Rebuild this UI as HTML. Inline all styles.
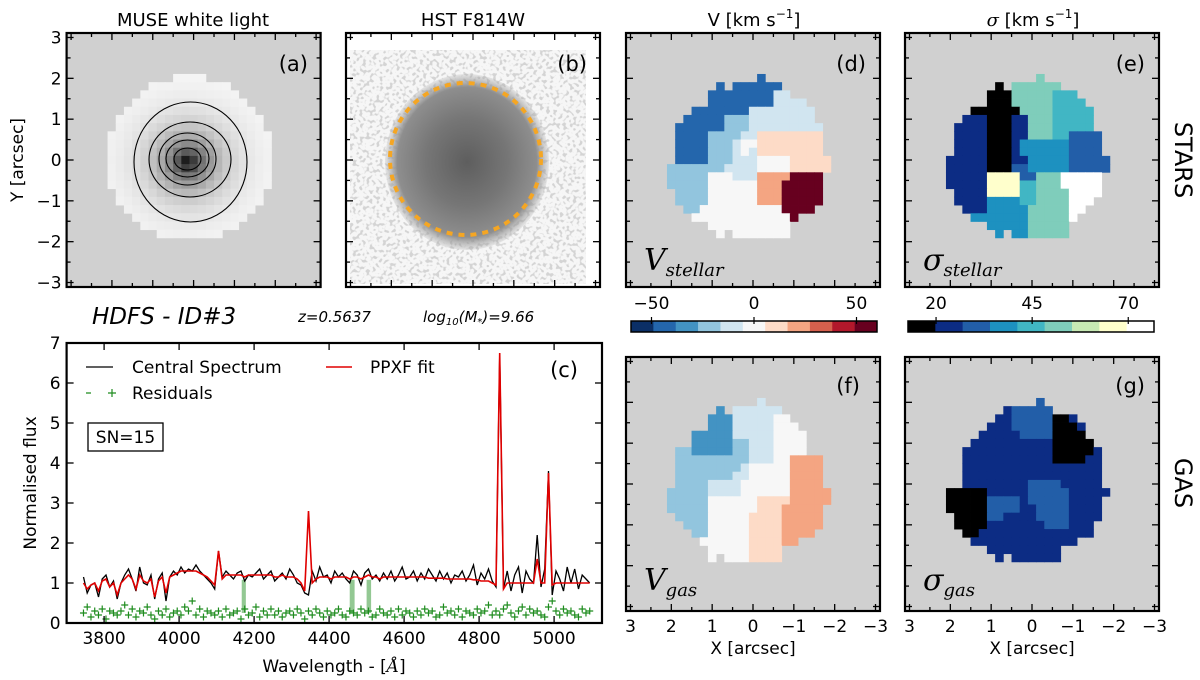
<!DOCTYPE html>
<html><head><meta charset="utf-8"><title>HDFS ID#3 kinematics</title>
<style>
body{margin:0;background:#fff}
svg{display:block;font-family:"DejaVu Sans","Liberation Sans",sans-serif}
.tl{font-size:17px;fill:#000}
.ttl{font-size:18px;fill:#000}
.plab{font-size:21px;fill:#000}
.ser{font-family:"DejaVu Serif","Liberation Serif",serif;font-style:italic}
</style></head>
<body>
<svg id="fig" width="1200" height="680" viewBox="0 0 1200 680" xmlns="http://www.w3.org/2000/svg">
<defs>
  <filter id="noise" x="0" y="0" width="100%" height="100%">
    <feTurbulence type="fractalNoise" baseFrequency="0.3" numOctaves="1" seed="7"/>
    <feColorMatrix type="matrix" values="0 0 0 0 0.66  0 0 0 0 0.66  0 0 0 0 0.66  9 0 0 0 -4.7"/>
  </filter>
  <radialGradient id="galgrad" cx="0.5" cy="0.5" r="0.5">
    <stop offset="0" stop-color="#5e5e5e"/>
    <stop offset="0.5" stop-color="#767676"/>
    <stop offset="0.85" stop-color="#8e8e8e"/>
    <stop offset="1" stop-color="#a0a0a0" stop-opacity="0.2"/>
  </radialGradient>
  <clipPath id="clipb"><rect x="346" y="33" width="254" height="254"/></clipPath>
</defs>

<text class="ttl" x="193" y="26" text-anchor="middle">MUSE white light</text>
<text class="ttl" x="473" y="26" text-anchor="middle">HST F814W</text>
<text class="ttl" x="754" y="26" text-anchor="middle">V [km s<tspan dy="-8" font-size="12">−1</tspan><tspan dy="8">]</tspan></text>
<text class="ttl" x="1033" y="26" text-anchor="middle"><tspan class="ser">σ</tspan> [km s<tspan dy="-8" font-size="12">−1</tspan><tspan dy="8">]</tspan></text>

<text x="92" y="324" font-size="23" font-style="italic">HDFS - ID#3</text>
<text x="298" y="322" font-size="15" font-style="italic">z=0.5637</text>
<text x="423" y="322" font-size="15" font-style="italic">log<tspan font-size="10" dy="3">10</tspan><tspan dy="-3">(M</tspan><tspan font-size="10" dy="3">*</tspan><tspan dy="-3">)=9.66</tspan></text>

<text x="1182" y="160" font-size="24" text-anchor="middle" transform="rotate(90 1182 160)" dominant-baseline="middle">STARS</text>
<text x="1182" y="483" font-size="24" text-anchor="middle" transform="rotate(90 1182 483)" dominant-baseline="middle">GAS</text>

<text class="tl" x="18" y="160" text-anchor="middle" transform="rotate(-90 18 160)" dominant-baseline="middle">Y [arcsec]</text>
<text class="tl" x="31" y="483" text-anchor="middle" transform="rotate(-90 31 483)" dominant-baseline="middle">Normalised flux</text>
<text class="tl" x="334" y="672" text-anchor="middle">Wavelength - [<tspan class="ser">Å</tspan>]</text>
<text class="tl" x="753" y="654" text-anchor="middle">X [arcsec]</text>
<text class="tl" x="1032" y="654" text-anchor="middle">X [arcsec]</text>

<g id="panels"></g>
</svg>

<script>
const NS = 'http://www.w3.org/2000/svg';
const svg = document.getElementById('panels');

const vStellarRows = [
"............1.........",
".......1.111111.......",
"......1111111144......",
"......111111114444....",
"....111111144444444...",
"...1111133344444444...",
"..111111333444444444..",
"..111133334466666666..",
"..111133345566666666..",
"..111133345466666666..",
"..1111333444555566666.",
".33333334444555566666.",
".333335554447777AAAA..",
".33333555555777AAAAA..",
"..3333555555777AAAAA..",
"..3333555555777AAAAA..",
"...335555555555AAAA...",
"....555555555555A.....",
"......5555555555......",
".......5.5555555......"
];
const sStellarRows = [
"............5.........",
".......0.555555.......",
"......00055555444.....",
"......000555554444....",
"....000000555544444...",
"...1110001155544444...",
"..11110001155544444...",
"..111100011555442222..",
"..111100013333332222..",
"..111100013333332222..",
".11111000113333322222.",
".11111000223333322222.",
".1111177772255588888..",
".1111177774455588888..",
"..111177774455558888..",
"..11113333445555888...",
"...111333335555588....",
"....3333333555558.....",
"......3333355555......",
".......3.3355555......"
];
const vGasRows = [
"............4.........",
".......2.444444.......",
"......2224444455......",
"......22244444555.....",
"....22222444445555....",
"....22222334445555....",
"..3322222334445555....",
"..333333333444557777..",
"..333333334555557777..",
"..333333344555557777..",
"..333344445555557777..",
".33333444455555577777.",
".33333555555666677777.",
".3333355555566677777..",
"..333355555666677777..",
"...33355555666677777..",
"....335555566667777...",
".....555555666677.....",
"......555556666.......",
"......5.5556666......."
];
const sGasRows = [
"............2.........",
"........122222........",
".......1122222001.....",
"......111222220001....",
".....1111122220000....",
"....111111111100000...",
"...11111111111000001..",
"...11111111111000011..",
"...11111111111111111..",
"...11111111111111111..",
"...11111111222211111..",
".00000111112222211111.",
".0000022221222221111..",
".0000022221122221111..",
"..000022111122221111..",
"..00001111111222111...",
"...0011111111111111...",
"....1111111111111.....",
"......111111111.......",
".......1.111111......."
];
const vColors = ['#0b2f66','#2466ac','#4393c3','#92c5de','#d1e5f0','#f7f7f7','#fddbc7','#f4a582','#d6604d','#b2182b','#67001f'];
const sColors = ['#000000','#0c2c84','#225ea8','#1d91c0','#41b6c4','#7fcdbb','#c7e9b4','#ffffcc','#ffffff'];
const vTicks = [-50, 0, 50];
const sTicks = [20, 45, 70];
const vRange = [-60, 60];
const sRange = [12.7, 76.7];

const lamStart = 3745, lamStep = 10;
const fluxObs = [
1.15,0.75,0.95,1.0,0.65,1.1,1.2,0.9,1.05,0.6,
1.0,1.2,1.35,1.1,0.8,1.4,1.0,0.95,1.2,0.6,
1.1,1.25,0.55,1.15,1.3,1.2,1.4,1.25,1.35,1.3,
1.45,1.3,1.2,1.1,1.0,0.85,1.8,1.15,1.3,1.2,
1.1,1.25,1.3,1.05,1.2,1.15,1.25,1.35,1.1,1.2,
1.3,1.05,1.15,1.25,1.1,1.35,1.2,1.0,0.95,0.75,
0.7,1.3,1.05,1.4,1.15,1.2,1.0,1.3,1.15,1.25,
1.1,1.0,1.3,1.2,0.95,1.25,1.35,1.1,1.2,1.05,
1.25,1.1,1.3,1.05,1.2,1.4,1.1,1.15,1.3,1.05,
1.25,1.1,1.35,1.2,1.05,1.3,1.1,1.25,1.0,1.2,
1.15,1.3,1.05,1.2,1.45,0.95,1.25,1.1,1.35,1.05,
0.9,6.7,0.85,1.3,0.8,1.2,1.4,0.75,1.3,1.1,
1.0,2.2,0.9,1.35,3.8,0.7,1.3,1.1,0.8,1.4,
1.0,1.35,0.85,1.2,1.1,1.0
];
const fluxFit = [
1.0,0.85,0.95,1.0,0.8,1.05,1.1,0.9,1.0,0.7,
1.0,1.1,1.2,1.1,0.85,1.2,1.05,1.0,1.1,0.65,
1.05,1.15,0.75,1.15,1.2,1.25,1.3,1.3,1.3,1.3,
1.3,1.25,1.2,1.15,1.05,0.95,1.8,1.1,1.2,1.2,
1.2,1.2,1.2,1.15,1.2,1.2,1.2,1.2,1.2,1.2,
1.2,1.15,1.15,1.2,1.15,1.15,1.15,1.1,1.0,0.8,
2.8,1.0,1.1,1.15,1.15,1.15,1.1,1.15,1.15,1.15,
1.15,1.1,1.15,1.15,1.1,1.15,1.2,1.15,1.15,1.1,
1.15,1.15,1.15,1.15,1.15,1.15,1.15,1.15,1.15,1.15,
1.15,1.15,1.12,1.12,1.12,1.12,1.12,1.1,1.1,1.1,
1.1,1.1,1.1,1.1,1.08,1.08,1.05,1.05,1.05,1.0,
0.95,6.75,0.85,1.0,1.0,1.0,1.0,1.0,1.0,1.0,
1.0,1.6,1.0,1.0,3.75,0.95,1.0,1.0,1.0,1.0,
1.0,1.0,1.0,1.0,1.0,1.0
];
const residuals = [
0.25,0.4,0.15,0.3,0.2,0.35,0.1,0.3,0.25,0.2,
0.3,0.45,0.2,0.35,0.15,0.3,0.25,0.4,0.2,0.1,
0.3,0.2,0.35,0.15,0.25,0.3,0.2,0.4,0.3,0.55,
0.2,0.35,0.15,0.3,0.25,0.2,0.3,0.15,0.35,0.2,
0.25,0.3,0.1,0.35,0.2,0.25,0.4,0.15,0.3,0.2,
0.35,0.2,0.3,0.15,0.25,0.3,0.2,0.35,0.25,0.1,
0.3,0.2,0.35,0.25,0.15,0.3,0.2,0.25,0.35,0.2,
0.15,0.3,0.25,0.2,0.35,0.25,0.3,0.15,0.2,0.35,
0.25,0.2,0.3,0.15,0.35,0.2,0.3,0.25,0.15,0.3,
0.2,0.35,0.25,0.3,0.15,0.2,0.4,0.25,0.3,0.2,
0.35,0.15,0.3,0.25,0.2,0.35,0.25,0.3,0.45,0.2,
0.3,0.2,0.35,0.45,0.25,0.15,0.3,0.4,0.2,0.35,
0.25,0.3,0.2,0.15,0.4,0.55,0.3,0.2,0.35,0.25,
0.3,0.2,0.15,0.35,0.25,0.3
];
const maskedBandsStart = [4167, 4455, 4500];
const maskedBandsEnd = [4178, 4468, 4512];
const specXTicks = [3800, 4000, 4200, 4400, 4600, 4800, 5000];
const specYTicks = [0, 1, 2, 3, 4, 5, 6, 7];
const arcTicks = [3, 2, 1, 0, -1, -2, -3];

function mk(tag, attrs, parent) {
  const e = document.createElementNS(NS, tag);
  for (const k in attrs) e.setAttribute(k, attrs[k]);
  (parent || svg).appendChild(e);
  return e;
}
const P = 254, CELL = P / 31, AR = 3.11;
const panels = {
  a: [66.6, 33], b: [346, 33], d: [626, 33], e: [905, 33], f: [626, 357], g: [905, 357]
};
function ax(px, X) { return px + (AR - X) / (2 * AR) * P; }
function ay(py, Y) { return py + (AR - Y) / (2 * AR) * P; }
const fmt = v => (v < 0 ? '\u2212' + Math.abs(v) : '' + v);

function frameAndTicks(key, name, xlabels, ylabels) {
  const [px, py] = panels[key];
  const g = mk('g', {});
  for (let v = -3; v <= 3.001; v += 0.5) {
    const L = Number.isInteger(v) ? 7 : 4;
    const x = ax(px, v), y = ay(py, v);
    mk('line', {x1: x, y1: py, x2: x, y2: py + L, stroke: '#000', 'stroke-width': 1.3}, g);
    mk('line', {x1: x, y1: py + P, x2: x, y2: py + P - L, stroke: '#000', 'stroke-width': 1.3}, g);
    mk('line', {x1: px, y1: y, x2: px + L, y2: y, stroke: '#000', 'stroke-width': 1.3}, g);
    mk('line', {x1: px + P, y1: y, x2: px + P - L, y2: y, stroke: '#000', 'stroke-width': 1.3}, g);
  }
  const fr = mk('rect', {x: px, y: py, width: P, height: P, fill: 'none', stroke: '#000', 'stroke-width': 2.2}, g);
  
  
  if (xlabels) arcTicks.forEach(v => {
    const t = mk('text', {x: ax(px, v), y: py + P + 21, 'text-anchor': 'middle', class: 'tl'}, g);
    t.textContent = fmt(v);
    
    
  });
  if (ylabels) arcTicks.forEach(v => {
    const t = mk('text', {x: px - 5, y: ay(py, v) + 6, 'text-anchor': 'end', class: 'tl'}, g);
    t.textContent = fmt(v);
    
    
  });
}

function panelLetter(key, txt, rx, by) {
  const t = mk('text', {x: rx, y: by, 'text-anchor': 'end', class: 'plab'});
  t.textContent = txt;
  
  
}

function drawMap(key, rows, colors, name) {
  const [px, py] = panels[key];
  const g = mk('g', {});
  
  
  const bg = mk('rect', {x: px, y: py, width: P, height: P, fill: '#d0d0d0'}, g);
  
  
  rows.forEach((row, i) => {
    for (let j = 0; j < row.length; j++) {
      const ch = row[j];
      if (ch === '.') continue;
      const idx = parseInt(ch, 36);
      const c = j + 4, r = i + 5;
      const el = mk('rect', {x: px + c * CELL, y: py + r * CELL, width: CELL + 0.4, height: CELL + 0.4, fill: colors[idx]}, g);
      
      
    }
  });
}

function drawColorbar(x0, x1, y0, y1, colors, range, ticks, name) {
  const g = mk('g', {});
  const n = colors.length, w = (x1 - x0) / n;
  colors.forEach((c, i) => {
    const el = mk('rect', {x: x0 + i * w, y: y0, width: w + 0.3, height: y1 - y0, fill: c}, g);
    
    
  });
  const fr = mk('rect', {x: x0, y: y0, width: x1 - x0, height: y1 - y0, fill: 'none', stroke: '#000', 'stroke-width': 1.5}, g);
  
  
  ticks.forEach(v => {
    const x = x0 + (v - range[0]) / (range[1] - range[0]) * (x1 - x0);
    mk('line', {x1: x, y1: y0 - 4, x2: x, y2: y0 + 3, stroke: '#000', 'stroke-width': 1.2}, g);
    const t = mk('text', {x: x, y: y0 - 12, 'text-anchor': 'middle', class: 'tl'}, g);
    t.textContent = fmt(v);
    
    
  });
}

function mapLabel(x, y, main, sub, name) {
  const t = mk('text', {x: x, y: y, class: 'ser', 'font-size': 30});
  
  
  const a = mk('tspan', {}, t); a.textContent = main;
  const b = mk('tspan', {'font-size': 18, dy: 6}, t); b.textContent = sub;
}

/* panel a */
(function () {
  const [px, py] = panels.a;
  const g = mk('g', {});
  
  
  mk('rect', {x: px, y: py, width: P, height: P, fill: '#d0d0d0'}, g);
  for (let r = 0; r < 31; r++) for (let c = 0; c < 31; c++) {
    const cx = px + (c + 0.5) * CELL, cy = py + (r + 0.5) * CELL;
    const e = ((cx - 190) / 83) ** 2 + ((cy - 158) / 81) ** 2;
    if (e > 1) continue;
    const d = Math.hypot(cx - 187.5, (cy - 162) * 1.05);
    const gv = Math.round(250 * (1 - Math.exp(-d / 24)));
    const el = mk('rect', {x: px + c * CELL, y: py + r * CELL, width: CELL + 0.4, height: CELL + 0.4, fill: `rgb(${gv},${gv},${gv})`}, g);
    
    
  }
  [[190.5, 162, 56.5, 60], [190, 159.5, 41, 37.5], [187.5, 159, 28.5, 26], [187.5, 158.5, 21.5, 18.5], [187.5, 159, 13.5, 11]].forEach(c => {
    const el = mk('ellipse', {cx: c[0], cy: c[1], rx: c[2], ry: c[3], fill: 'none', stroke: '#000', 'stroke-width': 1.1}, g);
    
    
  });
})();
frameAndTicks('a', 'panel-a', false, true);
panelLetter('a', '(a)', 308, 71);

/* panel b */
(function () {
  const g = mk('g', {'clip-path': 'url(#clipb)'});
  
  
  mk('rect', {x: 346, y: 33, width: 254, height: 254, fill: '#ffffff'}, g);
  mk('rect', {x: 350, y: 50, width: 236, height: 234, fill: '#f6f6f6'}, g);
  mk('rect', {x: 350, y: 50, width: 236, height: 234, filter: 'url(#noise)'}, g);
  mk('ellipse', {cx: 467, cy: 162, rx: 82, ry: 88, fill: 'url(#galgrad)'}, g);
  const el = mk('ellipse', {cx: 465.5, cy: 159, rx: 75.5, ry: 76, fill: 'none', stroke: '#f5a623', 'stroke-width': 4, 'stroke-dasharray': '6 6'}, g);
  
  
})();
frameAndTicks('b', 'panel-b', false, false);
panelLetter('b', '(b)', 587, 71);

drawMap('d', vStellarRows, vColors, 'map-v-stellar');
frameAndTicks('d', 'panel-d', false, false);
panelLetter('d', '(d)', 866, 71);
mapLabel(644, 270, 'V', 'stellar', 'label-v-stellar');

drawMap('e', sStellarRows, sColors, 'map-sigma-stellar');
frameAndTicks('e', 'panel-e', false, false);
panelLetter('e', '(e)', 1145, 71);
mapLabel(923, 270, 'σ', 'stellar', 'label-sigma-stellar');

drawMap('f', vGasRows, vColors, 'map-v-gas');
frameAndTicks('f', 'panel-f', true, false);
panelLetter('f', '(f)', 860, 393);
mapLabel(644, 590, 'V', 'gas', 'label-v-gas');

drawMap('g', sGasRows, sColors, 'map-sigma-gas');
frameAndTicks('g', 'panel-g', true, false);
panelLetter('g', '(g)', 1145, 393);
mapLabel(923, 590, 'σ', 'gas', 'label-sigma-gas');

drawColorbar(631, 877, 321, 332, vColors, vRange, vTicks, 'colorbar-velocity');
drawColorbar(908, 1154, 321, 332, sColors, sRange, sTicks, 'colorbar-dispersion');

/* panel c */
(function () {
  const X0 = 66.6, X1 = 602, Y0 = 343, Y1 = 623;
  const xs = l => X0 + (l - 3700) * 0.375;
  const ys = v => Y1 - v * 40;
  const g = mk('g', {});
  
  
  maskedBandsStart.forEach((s, i) => {
    const el = mk('rect', {x: xs(s), y: ys(1.08), width: xs(maskedBandsEnd[i]) - xs(s), height: ys(0.25) - ys(1.08), fill: '#3a9a3a', opacity: 0.55}, g);
    
    
  });
  let res = '';
  residuals.forEach((v, k) => {
    const x = xs(lamStart + k * lamStep), y = ys(v);
    res += `M${x - 3.5} ${y}h7M${x} ${y - 3.5}v7`;
  });
  const rp = mk('path', {d: res, stroke: '#1e8c1e', 'stroke-width': 1.2, fill: 'none'}, g);
  
  
  const obs = fluxObs.map((v, k) => xs(lamStart + k * lamStep).toFixed(1) + ',' + ys(v).toFixed(1)).join(' ');
  const ol = mk('polyline', {points: obs, fill: 'none', stroke: '#000', 'stroke-width': 1.3}, g);
  
  
  const fit = fluxFit.map((v, k) => xs(lamStart + k * lamStep).toFixed(1) + ',' + ys(v).toFixed(1)).join(' ');
  const fl = mk('polyline', {points: fit, fill: 'none', stroke: '#e00000', 'stroke-width': 1.6}, g);
  
  
  specXTicks.forEach(l => {
    const x = xs(l);
    mk('line', {x1: x, y1: Y1, x2: x, y2: Y1 - 7, stroke: '#000', 'stroke-width': 1.3}, g);
    mk('line', {x1: x, y1: Y0, x2: x, y2: Y0 + 7, stroke: '#000', 'stroke-width': 1.3}, g);
    const t = mk('text', {x: x, y: Y1 + 21, 'text-anchor': 'middle', class: 'tl'}, g);
    t.textContent = l;
    
    
  });
  specYTicks.forEach(v => {
    const y = ys(v);
    mk('line', {x1: X0, y1: y, x2: X0 + 7, y2: y, stroke: '#000', 'stroke-width': 1.3}, g);
    mk('line', {x1: X1, y1: y, x2: X1 - 7, y2: y, stroke: '#000', 'stroke-width': 1.3}, g);
    const t = mk('text', {x: X0 - 6, y: y + 6, 'text-anchor': 'end', class: 'tl'}, g);
    t.textContent = v;
    
    
  });
  const fr = mk('rect', {x: X0, y: Y0, width: X1 - X0, height: Y1 - Y0, fill: 'none', stroke: '#000', 'stroke-width': 2.2}, g);
  
  
  const lg = mk('g', {}, g);
  
  
  mk('line', {x1: 86, y1: 367, x2: 113, y2: 367, stroke: '#000', 'stroke-width': 1.2}, lg);
  let t = mk('text', {x: 132, y: 373, class: 'tl'}, lg); t.textContent = 'Central Spectrum';
  
  
  mk('line', {x1: 326, y1: 367, x2: 352, y2: 367, stroke: '#e00000', 'stroke-width': 1.5}, lg);
  t = mk('text', {x: 370, y: 373, class: 'tl'}, lg); t.textContent = 'PPXF fit';
  
  
  mk('path', {d: 'M86 393h5M108 393h8M112 389v8', stroke: '#1e8c1e', 'stroke-width': 1.2}, lg);
  t = mk('text', {x: 132, y: 399, class: 'tl'}, lg); t.textContent = 'Residuals';
  
  
  const sb = mk('rect', {x: 88, y: 423, width: 75, height: 28, fill: '#fff', stroke: '#000', 'stroke-width': 1.3}, g);
  
  
  t = mk('text', {x: 125.5, y: 443, 'text-anchor': 'middle', class: 'tl'}, g); t.textContent = 'SN=15';
  
  
  t = mk('text', {x: 578, y: 377, 'text-anchor': 'end', class: 'plab'}, g); t.textContent = '(c)';
  
  
})();
</script>
</body></html>
